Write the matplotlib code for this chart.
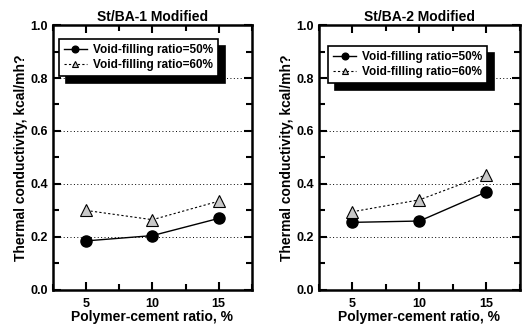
import matplotlib
matplotlib.use("Agg")
import matplotlib.pyplot as plt
from matplotlib.ticker import MultipleLocator

plt.rcParams['font.family'] = ['Liberation Sans', 'DejaVu Sans']
plt.rcParams['font.weight'] = 'bold'

# data
ratio = [5, 10, 15]
titles = ["St/BA-1 Modified", "St/BA-2 Modified"]
vf50 = [[0.185, 0.205, 0.27], [0.255, 0.26, 0.37]]
vf60 = [[0.30, 0.265, 0.335], [0.295, 0.34, 0.435]]
labels = ["Void-filling ratio=50%", "Void-filling ratio=60%"]

fig = plt.figure(figsize=(5.22, 3.25), dpi=100)
positions = [[0.1015, 0.108, 0.381, 0.815], [0.611, 0.108, 0.385, 0.815]]
legend_anchor = [(0.03, 0.947), (0.045, 0.92)]

for i in range(2):
    ax = fig.add_axes(positions[i])
    for y in [0.2, 0.4, 0.6, 0.8]:
        ax.axhline(y, color='black', lw=0.7, ls=(0, (1, 2.5)), zorder=1)
    ax.plot(ratio, vf50[i], color='black', lw=1.0, marker='o', ms=8,
            mfc='black', mec='black', label=labels[0], zorder=3)
    ax.plot(ratio, vf60[i], color='black', lw=0.8, ls=(0, (2, 2)), marker='^', ms=8,
            mfc='#c8c8c8', mec='black', mew=0.8, label=labels[1], zorder=3)
    ax.set_xlim(2.5, 17.5)
    ax.set_ylim(0, 1.0)
    ax.xaxis.set_major_locator(MultipleLocator(5))
    ax.xaxis.set_minor_locator(MultipleLocator(2.5))
    ax.yaxis.set_major_locator(MultipleLocator(0.2))
    ax.yaxis.set_minor_locator(MultipleLocator(0.1))
    ax.tick_params(which='both', direction='in', top=True, right=True, width=1.5,
                   labelsize=9)
    ax.tick_params(which='major', length=6)
    ax.tick_params(which='minor', length=4)
    ax.tick_params(axis='x', pad=6)
    ax.yaxis.set_major_formatter(plt.FuncFormatter(lambda v, p: "%.1f" % v))
    for sp in ax.spines.values():
        sp.set_linewidth(1.8)
    ax.set_title(titles[i], fontsize=10, fontweight='bold', pad=3)
    ax.set_xlabel("Polymer-cement ratio, %", fontsize=10, fontweight='bold', labelpad=0)
    ax.set_ylabel("Thermal conductivity, kcal/mh?", fontsize=10, fontweight='bold', labelpad=2)
    leg = ax.legend(loc='upper left', bbox_to_anchor=legend_anchor[i], fontsize=8.5,
                    fancybox=False, framealpha=1, edgecolor='black', borderpad=0.4,
                    handlelength=2.0, labelspacing=0.3, markerscale=0.6,
                    handletextpad=0.5, borderaxespad=0,
                    shadow={'ox': 5, 'oy': -5, 'color': 'black', 'alpha': 1})
    leg.get_frame().set_linewidth(1.2)

fig.savefig("out.png", dpi=100)
